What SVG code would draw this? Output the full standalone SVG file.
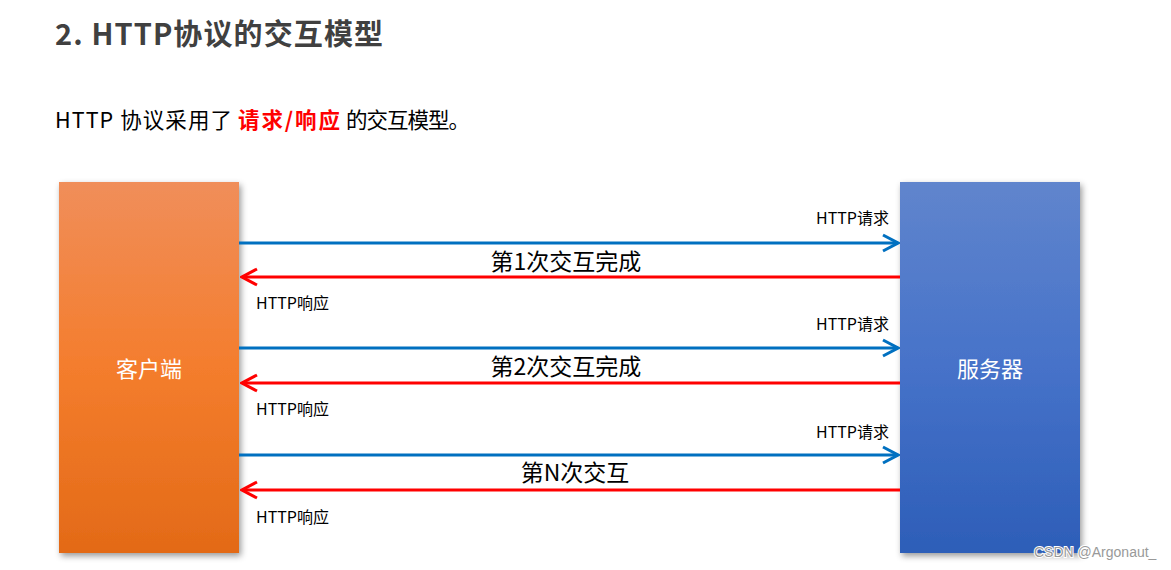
<svg xmlns="http://www.w3.org/2000/svg" width="1171" height="570" viewBox="0 0 1171 570">
<style>
text{font-family:"Microsoft YaHei","Noto Sans CJK SC","Liberation Sans",sans-serif}
.title{font-size:29px;font-weight:bold;fill:#404040}
.sub{font-size:21.5px;fill:#000}
.red{fill:#ff0000;font-weight:bold}
.lbl{font-size:16px;fill:#000}
.mid{font-size:23px;fill:#000;text-anchor:middle}
.node{font-size:22px;fill:#fff;text-anchor:middle}
.req{stroke:#0070C0;stroke-width:3;fill:none}
.resp{stroke:#FF0000;stroke-width:3;fill:none}
.wm{font-size:14px;fill:#999;font-family:"Liberation Sans",sans-serif}
</style>
<defs>
<linearGradient id="gO" x1="0" y1="0" x2="0" y2="1">
<stop offset="0" stop-color="#F08E5A"/>
<stop offset="0.5" stop-color="#F47D2D"/>
<stop offset="1" stop-color="#E36A17"/>
</linearGradient>
<linearGradient id="gB" x1="0" y1="0" x2="0" y2="1">
<stop offset="0" stop-color="#6085CD"/>
<stop offset="0.5" stop-color="#4672C9"/>
<stop offset="1" stop-color="#2D5EB8"/>
</linearGradient>
<filter id="sh" x="-10%" y="-5%" width="125%" height="115%">
<feDropShadow dx="2" dy="3" stdDeviation="3" flood-color="#000" flood-opacity="0.4"/>
</filter>
<marker id="aB" viewBox="0 0 18 20" refX="16" refY="10" markerWidth="18" markerHeight="20" markerUnits="userSpaceOnUse" orient="auto">
<path d="M1,2 L16,10 L1,18" fill="none" stroke="#0070C0" stroke-width="3"/>
</marker>
<marker id="aR" viewBox="0 0 18 20" refX="16" refY="10" markerWidth="18" markerHeight="20" markerUnits="userSpaceOnUse" orient="auto">
<path d="M1,2 L16,10 L1,18" fill="none" stroke="#FF0000" stroke-width="3"/>
</marker>
</defs>
<rect width="1171" height="570" fill="#fff"/>
<text class="title" x="55" y="45" textLength="328" lengthAdjust="spacing">2. HTTP协议的交互模型</text>
<text class="sub" x="55" y="128" textLength="177" lengthAdjust="spacing">HTTP 协议采用了</text>
<text class="sub red" x="238" y="128" textLength="102" lengthAdjust="spacing">请求/响应</text>
<text class="sub" x="346" y="128" textLength="124" lengthAdjust="spacing">的交互模型。</text>

<g id="client">
<rect x="59" y="182" width="180" height="371" fill="url(#gO)" filter="url(#sh)"/>
<text class="node" x="149" y="377">客户端</text>
</g>
<g id="server">
<rect x="900" y="182" width="180" height="371" fill="url(#gB)" filter="url(#sh)"/>
<text class="node" x="990" y="377">服务器</text>
</g>

<g id="connectors">
<line class="req" x1="239" y1="243" x2="898" y2="243" marker-end="url(#aB)"/>
<line class="resp" x1="900" y1="277" x2="242" y2="277" marker-end="url(#aR)"/>
<line class="req" x1="239" y1="348" x2="898" y2="348" marker-end="url(#aB)"/>
<line class="resp" x1="900" y1="383" x2="242" y2="383" marker-end="url(#aR)"/>
<line class="req" x1="239" y1="455" x2="898" y2="455" marker-end="url(#aB)"/>
<line class="resp" x1="900" y1="490" x2="242" y2="490" marker-end="url(#aR)"/>
</g>

<g id="labels">
<text class="lbl" x="889" y="224" text-anchor="end">HTTP请求</text>
<text class="mid" x="566" y="270">第1次交互完成</text>
<text class="lbl" x="256" y="309">HTTP响应</text>
<text class="lbl" x="889" y="330" text-anchor="end">HTTP请求</text>
<text class="mid" x="566" y="375">第2次交互完成</text>
<text class="lbl" x="256" y="415">HTTP响应</text>
<text class="lbl" x="889" y="438" text-anchor="end">HTTP请求</text>
<text class="mid" x="575" y="481">第N次交互</text>
<text class="lbl" x="256" y="523">HTTP响应</text>
</g>
<text class="wm" x="1034" y="557" stroke="#fff" stroke-width="2" paint-order="stroke">CSDN @Argonaut_</text>
</svg>
